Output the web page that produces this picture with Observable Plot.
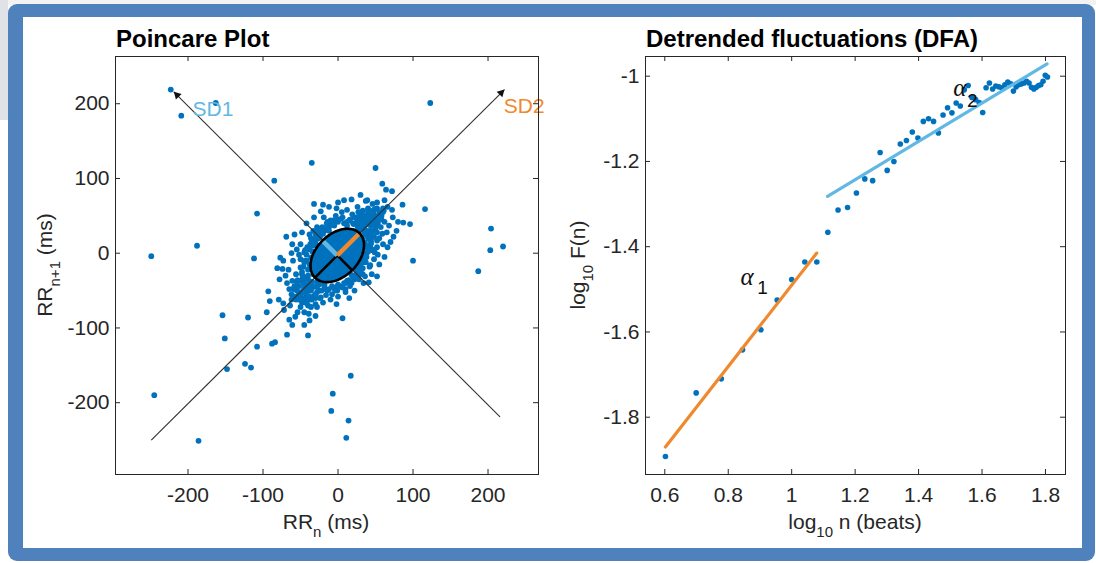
<!DOCTYPE html>
<html>
<head>
<meta charset="utf-8">
<script src="https://cdn.jsdelivr.net/npm/d3@7"></script>
<script src="https://cdn.jsdelivr.net/npm/@observablehq/plot@0.6"></script>
<style>
  html, body { margin: 0; padding: 0; }
  body { width: 1096px; height: 563px; overflow: hidden; background: #fff; position: relative;
         font-family: "Liberation Sans", Arial, Helvetica, sans-serif; color: #262626; }
  #ui { position: absolute; left: 0; top: 0; width: 8px; height: 120px; background: #dfe3e8; }
  #uitop { position: absolute; left: 0; top: 0; width: 1096px; height: 5px; background: #f2f2f2; }
  #frame { position: absolute; left: 8px; top: 4px; width: 1087px; height: 557px; background: #4F81BD; border-radius: 9px; }
  #inner { position: absolute; left: 23px; top: 17px; width: 1059px; height: 531px; background: #fff; }
  .panel { position: absolute; top: 0; }
  .title { position: absolute; font-weight: bold; font-size: 24px; line-height: 24px; white-space: nowrap; color: #000; }
  .lab { position: absolute; font-size: 21px; line-height: 21px; white-space: nowrap; color: #262626; }
  .sub { font-size: 15px; position: relative; top: 8px; }
</style>
</head>
<body>
<div id="uitop"></div>
<div id="ui"></div>
<div id="frame"></div>
<div id="inner"></div>
<div id="left" class="panel" style="left:0px"></div>
<div id="right" class="panel" style="left:548px"></div>

<div class="title" style="left:116px; top:27px">Poincare Plot</div>
<div class="title" style="left:646px; top:27px">Detrended fluctuations (DFA)</div>

<div class="lab" style="left:326px; top:511px; transform:translateX(-50%)">RR<span class="sub">n</span> (ms)</div>
<div class="lab" style="left:45px; top:265px; transform:translate(-50%,-50%) rotate(-90deg)">RR<span class="sub">n+1</span> (ms)</div>
<div class="lab" style="left:855px; top:511px; transform:translateX(-50%)">log<span class="sub">10</span> n (beats)</div>
<div class="lab" style="left:578px; top:265px; transform:translate(-50%,-50%) rotate(-90deg)">log<span class="sub">10</span> F(n)</div>

<script>
// ---------------- Poincare data (ms, successive RR differences) ----------------
const rrN = [
  -223,-209,-163,123,-35,50,-85,59,64,72,-108,86,116,87,96,204,203,220,187,100,52,41,-249,-188,-112,-77,-81,-74,-69,-61,
  -93,-65,-91,-79,-73,-95,-72,-154,-120,-151,-65,-61,-45,-54,-68,-40,-108,-88,-84,-148,-124,-116,-245,-186,6,17,-7,-9,14,11,-32,
  8,26,37,39,25,19,-3,-10,4,15,30,39,47,49,44,50,57,59,52,46,30,21,12,-5,-12,-21,-23,-30,-32,-37,-41,-50,-45,-44,-50,-60,-56,
  -61,-50,-45,-52,-43,-41,-50,-36,-32,-25,-23,-14,-5,-1,6,12,21,26,30,37,37,39,44,-28,-39,-45,-30,62,66,73,68,74,65,52,53,49,
  46,55,-32,-19,
  20,28,35,42,48,35,42,50,58,62,40,33,27,12,5,-2,55,60,45,48,42,33,28,18,10,0,-8,-18,-27,-35,-40,-48,-52,-55,-38,-28,-15,-6,10,
  24,-20,-58,-47,-56,-35,-20,-62,-68,-66,-70,-64,-57,-38,-30,-10,-2,15,22,34,45,55,62,66,70,78,80,72,60,52,30,18,0,-12,-20,-42,
  -48,-58,-62,-73,-78,
  0,10,-10,20,-20,5,-5,15,-25,25,-15,
  45,50,47,52,55,42,38,44,36,30,50,53,58,48,40,35,40,45,32,25,
  -45,-50,-42,-55,-48,-40,-52,-58,-38,-60,-46,-36,-30,-55,-44,-62,-35,-40,-28,
  -30,-25,-35,-20,-28,-38,-15,-10,-42,-45,-5,0,-33,-24,
  25,30,20,35,15,10,38,40,5,28,33,22,42,0,
  56,61,47,34,27,-53,-47,-58,-33,-26,-18,18,36,43,
  30,35,40,45,50,38,45,50,42,35,28,22,16,12,48,52,44,40,36,32,26,33,55,47,40,30,20,8,42,46,38,34,30,56,52,60,37,27,
  -35,-40,-45,-50,-38,-32,-28,-22,-18,-42,-46,-48,-40,-38,-36,-34,-30,-38,-44,-52,-55,-25,-12,-8,-42,-46,-33,-28,-16,-24,
  -48,-40,-54,-50,-44,-30,-26,-20,
  -26,-18,-12,-6,-30,-34,-22,0,6,-14,-28,-36,
  24,28,32,20,14,8,2,36,40,26,16,30,10,-4,44
];
const rrN1 = [
  219,184,201,201,121,114,97,93,85,83,53,65,59,41,39,33,4,9,-24,-10,-31,-39,-4,10,-7,-6,-20,-21,22,12,
  -51,-48,-64,-62,-67,-79,-76,-83,-86,-114,-89,-96,-96,-79,-109,-110,-125,-121,-119,-155,-148,-153,-190,-251,-87,-164,-188,-211,-224,-247,66,
  71,62,70,71,48,52,50,44,46,44,46,48,55,59,44,35,35,26,17,22,39,39,37,37,30,35,56,26,17,12,8,12,1,-10,-19,-10,-28,
  -37,-37,-46,-54,-54,-63,-72,-72,-57,-50,-59,-50,-46,-50,-46,-37,-32,-23,-19,-12,-1,8,13,-72,-81,-79,-68,71,62,48,37,22,28,8,-2,1,
  66,46,48,48,
  30,35,40,38,42,28,30,48,50,42,55,57,55,58,55,60,20,12,5,-8,-18,-28,-35,-40,-52,-58,-55,-42,-40,-45,-35,-25,-2,5,25,35,40,44,40,
  -5,-30,-45,-62,-62,-62,-66,-55,-40,-22,-30,-70,-85,-90,-84,-62,-68,-60,-50,-40,-28,-15,-5,8,15,30,42,58,60,68,78,72,68,62,65,40,
  28,25,0,-10,-35,
  0,10,-10,15,-20,-10,8,25,-15,20,-30,
  42,47,52,44,55,48,45,37,50,52,30,40,45,58,60,30,25,25,40,42,
  -48,-52,-55,-50,-60,-48,-44,-58,-58,-48,-40,-50,-55,-38,-66,-62,-40,-30,-45,
  20,28,15,30,10,5,35,38,-2,-12,42,45,30,22,
  -25,-15,-32,-8,-38,-40,0,5,-45,-28,-20,-35,10,-42,
  52,57,39,46,33,-57,-33,-44,-22,-20,-48,-29,-31,-16,
  32,35,40,45,50,30,30,38,50,50,45,48,45,42,22,28,16,20,14,20,36,43,45,57,58,55,40,40,8,4,-5,-12,6,52,60,55,25,40,
  -38,-42,-48,-55,-50,-45,-52,-50,-46,-32,-38,-28,-22,-15,-6,2,-60,-62,-60,-62,-46,-42,-48,-44,-10,-18,-28,-38,-56,-60,
  -66,-70,-36,-8,4,12,20,26,
  24,30,35,40,16,10,33,42,48,42,30,20,
  -22,-16,-10,-30,-36,-40,-44,-4,2,-30,-44,-24,-48,-50,6
];
// SD ellipse (ms)
const sdCenter = [-1, -3];
const sd1 = 28;
const sd2 = 42;
// identity line and perpendicular line with arrow tips (ms)
const diagX1 = [-249, 216];
const diagY1 = [-250, -219];
const diagX2 = [222, -219];
const diagY2 = [219, 216];
const sdLabels = ["SD1", "SD2"];
const sdLabelX = [-194, 221];
const sdLabelY = [184, 188];
const poincareTicks = [-200, -100, 0, 100, 200];

// ---------------- DFA data ----------------
const nBeats = [4,5,6,7,8,9,10,11,12,13,14,15,16,17,18,19,20,21,22,23,24,25,26,27,28,29,30,31,32,33,34,
  35,36,37,38,39,40,41,42,43,44,45,46,47,48,49,50,51,52,53,54,55,56,57,58,59,60,61,62,63,64];
const log10F = [-1.892,-1.743,-1.710,-1.642,-1.595,-1.525,-1.477,-1.436,-1.436,-1.366,-1.314,-1.308,-1.274,-1.241,
  -1.245,-1.179,-1.221,-1.200,-1.159,-1.151,-1.131,-1.145,-1.106,-1.100,-1.106,-1.133,-1.091,-1.074,-1.086,-1.063,-1.070,
  -1.032,-1.022,-1.050,-1.055,-1.062,-1.085,-1.027,-1.016,-1.030,-1.023,-1.025,-1.027,-1.020,-1.014,-1.018,-1.035,-1.025,
  -1.020,-1.018,-1.016,-1.012,-1.016,-1.026,-1.030,-1.026,-1.022,-1.020,-1.012,-0.998,-1.002];
const fit1X = [0.602, 1.079];
const fit1Y = [-1.870, -1.415];
const fit2X = [1.113, 1.805];
const fit2Y = [-1.282, -0.971];
const alphaX = [0.8386, 1.509];
const alphaY = [-1.4887, -1.0476];
const alphaSubX = [0.8912, 1.5528];
const alphaSubY = [-1.5098, -1.0711];
const alphaSub = ["1", "2"];
const dfaXTicks = [0.6, 0.8, 1, 1.2, 1.4, 1.6, 1.8];
const dfaYTicks = [-1.8, -1.6, -1.4, -1.2, -1];

// ---------------- styling ----------------
const dotBlue = "#0072BD";
const orange = "#F0892E";
const lightBlue = "#62B8E2";
const ink = "#262626";
const fontFamily = "'Liberation Sans', Arial, Helvetica, sans-serif";

const W = 548, H = 563, mTop = 56, mBottom = 89;
const plotH = H - mTop - mBottom;

function boxTicks(xt, yt, plotW) {
  return [
    Plot.tickX(xt, {x: d => d, stroke: ink, insetTop: plotH - 5}),
    Plot.tickX(xt, {x: d => d, stroke: ink, insetBottom: plotH - 5}),
    Plot.tickY(yt, {y: d => d, stroke: ink, insetRight: plotW - 5}),
    Plot.tickY(yt, {y: d => d, stroke: ink, insetLeft: plotW - 5}),
    Plot.axisX(xt, {tickSize: 0, tickPadding: 13, fontSize: 21, fill: ink, tickFormat: d => String(d), label: null}),
    Plot.axisY(yt, {tickSize: 0, tickPadding: 6, fontSize: 21, fill: ink, tickFormat: d => String(d), label: null}),
    Plot.frame({stroke: ink, strokeWidth: 1})
  ];
}

// ---------------- Poincare plot ----------------
const pts = rrN.map((x, i) => ({x, y: rrN1[i]}));
const r2 = Math.SQRT1_2;
const [cx, cy] = sdCenter;
const ellipse = d3.range(0, 361, 3).map(a => {
  const t = a * Math.PI / 180, u = sd2 * Math.cos(t), v = sd1 * Math.sin(t);
  return {x: cx + (u - v) * r2, y: cy + (u + v) * r2};
});
const diag = diagX1.map((x1, i) => ({x1, y1: diagY1[i], x2: diagX2[i], y2: diagY2[i]}));
const heads = diag.map(d => {
  const L = Math.hypot(d.x2 - d.x1, d.y2 - d.y1);
  const back = 6.3;
  return {x: d.x2 - (d.x2 - d.x1) / L * back, y: d.y2 - (d.y2 - d.y1) / L * back, rot: d.x2 > d.x1 ? 45 : -45};
});
const segBlack = [
  {x1: cx, y1: cy, x2: cx - sd2 * r2, y2: cy - sd2 * r2},
  {x1: cx, y1: cy, x2: cx + sd1 * r2, y2: cy - sd1 * r2}
];
const segSD1 = [{x1: cx, y1: cy, x2: cx - sd1 * r2, y2: cy + sd1 * r2}];
const segSD2 = [{x1: cx, y1: cy, x2: cx + sd2 * r2, y2: cy + sd2 * r2}];
const sdText = sdLabels.map((t, i) => ({t, x: sdLabelX[i], y: sdLabelY[i]}));

const leftW = 548, leftML = 115, leftMR = 10;
const left = Plot.plot({
  width: leftW, height: H,
  marginLeft: leftML, marginRight: leftMR, marginTop: mTop, marginBottom: mBottom,
  style: {background: "transparent", overflow: "visible", fontFamily},
  x: {domain: [-296.7, 267.3], label: null, axis: null},
  y: {domain: [-296.1, 263.2], label: null, axis: null},
  marks: [
    Plot.dot(pts, {x: "x", y: "y", r: 2.9, fill: dotBlue, stroke: "none"}),
    Plot.line(ellipse, {x: "x", y: "y", fill: dotBlue, stroke: "none"}),
    Plot.link(diag, {x1: "x1", y1: "y1", x2: "x2", y2: "y2", stroke: "#303030", strokeWidth: 1.1}),
    Plot.dot(heads, {x: "x", y: "y", symbol: "triangle", r: 3, fill: "#111", stroke: "none", rotate: "rot"}),
    Plot.link(segBlack, {x1: "x1", y1: "y1", x2: "x2", y2: "y2", stroke: "#000", strokeWidth: 2.5}),
    Plot.link(segSD1, {x1: "x1", y1: "y1", x2: "x2", y2: "y2", stroke: lightBlue, strokeWidth: 4.5}),
    Plot.link(segSD2, {x1: "x1", y1: "y1", x2: "x2", y2: "y2", stroke: orange, strokeWidth: 4.5}),
    Plot.line(ellipse, {x: "x", y: "y", stroke: "#000", strokeWidth: 2.6}),
    Plot.text(sdText, {x: "x", y: "y", text: "t", fill: (d, i) => i === 0 ? lightBlue : orange,
      textAnchor: "start", lineAnchor: "bottom", fontSize: 21}),
    ...boxTicks(poincareTicks, poincareTicks, leftW - leftML - leftMR)
  ]
});
document.getElementById("left").appendChild(left);

// ---------------- DFA plot ----------------
const dfa = nBeats.map((n, i) => ({x: Math.log10(n), y: log10F[i]}));
const fit1 = fit1X.map((x, i) => ({x, y: fit1Y[i]}));
const fit2 = fit2X.map((x, i) => ({x, y: fit2Y[i]}));
const alphaT = alphaX.map((x, i) => ({x, y: alphaY[i]}));
const alphaS = alphaSubX.map((x, i) => ({x, y: alphaSubY[i], t: alphaSub[i]}));

const rightW = 548, rightML = 97, rightMR = 31;
const right = Plot.plot({
  width: rightW, height: H,
  marginLeft: rightML, marginRight: rightMR, marginTop: mTop, marginBottom: mBottom,
  style: {background: "transparent", overflow: "visible", fontFamily},
  x: {domain: [0.5392, 1.8631], label: null, axis: null},
  y: {domain: [-1.9344, -0.9538], label: null, axis: null},
  marks: [
    Plot.dot(dfa, {x: "x", y: "y", r: 2.8, fill: dotBlue, stroke: "none"}),
    Plot.line(fit1, {x: "x", y: "y", stroke: orange, strokeWidth: 3.2}),
    Plot.line(fit2, {x: "x", y: "y", stroke: lightBlue, strokeWidth: 3.2}),
    Plot.text(alphaT, {x: "x", y: "y", text: () => "α", textAnchor: "start", lineAnchor: "bottom",
      fontSize: 25, fontStyle: "italic", fontFamily: "'Liberation Serif', 'DejaVu Serif', serif", fill: "#111"}),
    Plot.text(alphaS, {x: "x", y: "y", text: "t", textAnchor: "start", lineAnchor: "bottom",
      fontSize: 19, fill: "#111"}),
    ...boxTicks(dfaXTicks, dfaYTicks, rightW - rightML - rightMR)
  ]
});
document.getElementById("right").appendChild(right);
</script>
</body>
</html>
